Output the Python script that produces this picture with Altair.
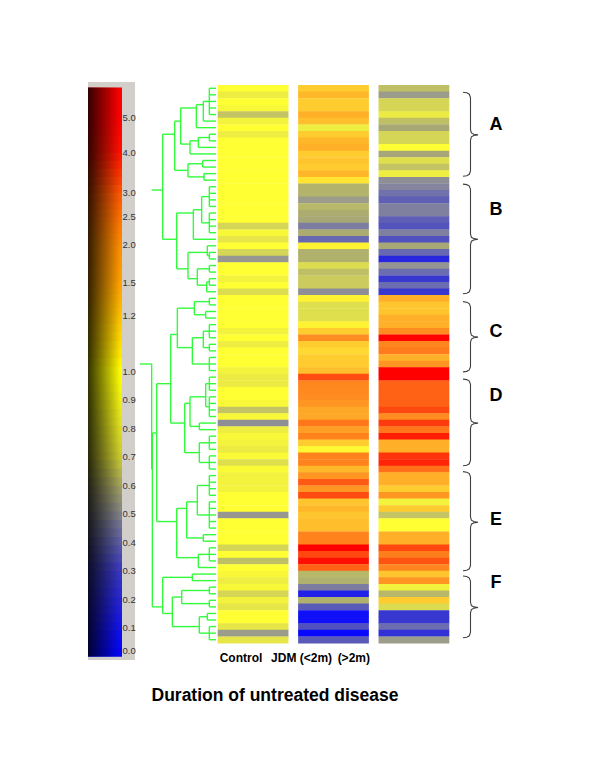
import altair as alt
import pandas as pd

control = [1,.93,1,.97,.8,.95,1,.93,1,1,1,1,1,1,1,1,1,1,1,1,1,.85,.97,.9,1,.85,.6,1,
           1,.95,1,.87,1,1,1,1,1,.95,1,.93,1,1,1,.95,.92,.92,1,1,.97,.8,.97,.55,.93,.97,.95,.92,
           .98,.88,.98,.95,.95,.95,1,1,1,.6,1,1,1,1,.85,1,.78,1,.97,.93,.97,.85,.95,.9,1,1,.9,.62,.9]
early = [1.2,1.35,1.2,1.2,1.4,1.3,.93,1.2,1.35,1.4,1.2,1.25,1.2,1.35,1.1,.73,.73,.62,.75,.7,.68,.47,.7,.38,1.05,.72,.72,.87,
         .78,.82,.82,.55,1.05,.88,.88,.88,1.05,1.2,1.6,1.2,1.15,1.2,1.2,1.3,2.5,1.7,1.65,1.6,1.55,1.45,1.45,1.9,1.5,1.75,1.2,1.03,
         1.75,1.75,1.35,1.55,2.3,1.55,2.5,1.25,1.35,1.25,1.3,1.3,1.75,1.75,5,2.6,4.5,2.2,.75,.72,.47,.1,.72,.3,.03,.03,.27,0,.3]
late = [.78,.62,.85,.85,.92,.78,.68,.85,.85,1,.67,.88,.8,.93,.55,.5,.42,.33,.48,.48,.33,.28,.48,.27,.68,.38,.13,.58,
        .4,.2,.4,.2,1.4,1.25,1.25,1.4,1.4,1.6,5,1.7,1.85,1.4,1.55,5,5,2.2,2.2,2.2,2.2,2.6,1.6,3,1.9,4,1.4,1.4,
        3.2,3.8,2,1.4,1.4,1.2,1.55,.95,1.2,.8,1,1,1.4,1.4,2.6,1.8,2.4,1.7,1.25,1.55,.95,.75,1.2,.87,.2,.2,.4,.17,.62]
groups = ["Control", "JDM (<2m)", "(>2m)"]

heat_stops = [0,.2,.3,.4,.5,.6,.7,.8,.9,1,1.2,1.4,1.6,2,2.5,3,5]
heat_colors = ["#0808ff","#3838d0","#5a5ab8","#6c6cb0","#84849c","#989890","#acac70","#c4c464","#e6e648",
               "#ffff33","#ffcc30","#ffb028","#ff8c20","#ff7018","#ff4c10","#ff3a0c","#ff0000"]

bar_levels = [0,.03,.06,.09,.12,.15,.18,.21,.24,.27,.3,.33,.36,.39,.42,.45,.48,.51,.54,.57,.6,.63,.66,.69,.72,.75,
              .78,.81,.84,.87,.9,.93,.96,.99,1.02,1.05,1.08,1.11,1.14,1.17,1.2,1.23,1.27,1.31,1.35,1.4,1.45,1.5,1.56,
              1.62,1.7,1.78,1.86,1.94,2,2.1,2.2,2.3,2.4,2.5,2.65,2.8,3,3.2,3.4,3.6,3.8,4,4.25,4.5,4.75,5,5.25,5.5,5.75,6]
bar_stops = [0,.3,.5,.6,.7,.9,1,1.1,1.2,1.5,2,3,4,5,6]
bar_colors = ["#0000ff","#3838c0","#808088","#a0a060","#c8c830","#eeee10","#ffff00","#ffdc00","#ffc000","#ffa000",
              "#ff8c00","#ff5500","#ff1000","#ff0000","#ff0000"]
bar_ticks = [5,4,3,2.5,2,1.5,1.2,1,.9,.8,.7,.6,.5,.4,.3,.2,.1,.018]
bar_labels = ["5.0","4.0","3.0","2.5","2.0","1.5","1.2","1.0","0.9","0.8","0.7","0.6","0.5","0.4","0.3","0.2","0.1","0.0"]
bar_scale_values = [0,.1,1,1.2,1.5,2,2.5,3,4,5,6]

tree = (193,
  (160,
    (124,
      (106, (59,(38,(20,0,1,2,3,4),5),6), (78,(53,(20,7,8),9),10)),
      (84,(40,11,12),(36,13,14))),
    (118,
      (68,(43,(20,15,16,17,18),(20,19,20,21,22)),23),
      (84,(26,24,(20,25,26)),(56,(20,27,28),(28,(20,29,30),31))))),
  (191,
    (178,
      (136,
        (116,(65,(20,32,33),(31,34,35)),(71,(38,(20,36,37,38),(20,39,40)),(20,41,42,43))),
        (94,(78,(31,(20,44,45,46),(20,47,48,49,50)),(50,51,52)),(50,(20,53,54,55),(20,56,57,58)))),
      (118,
        (88,(56,(20,59,60,61,62),(20,63,64,65,66,67)),(38,68,69)),
        (53,(20,70,71,72),73))),
    (160,
      (71,74,75),
      (131,(103,(20,76,77),(20,78,79)),(50,(26,80,81),(20,82,83,84))))))
root_stem = 228

cluster_names = ["A","B","C","D","E","F"]
cluster_label_rows = [6.1,19,37.6,47.4,66.2,75.8]
brace_start = [1.1,15.1,33,44.8,58.9,74.8]
brace_tip = [7.6,23.5,38.4,51.5,66.6,79.6]
brace_end = [13.9,31.8,43.7,58,74,84.2]

FONT = "Liberation Sans"

# ---------- scales ----------
def row_scale():
    return alt.Scale(domain=[0,85], range=[77,635], zero=False, nice=False)
def dist_scale():
    return alt.Scale(domain=[0,228], range=[208,132], zero=False, nice=False)
def bar_y_scale():
    return alt.Scale(domain=bar_scale_values,
                     range=[648.5,620,364,307.7,275,237,209,185,144.7,110,79.5], nice=False, zero=False)

# ---------- heatmap ----------
rows = []
for name, col in zip(groups, [control, early, late]):
    for i, v in enumerate(col):
        rows.append({"group": name, "row": i, "row2": i + 1.06, "value": v})
heat = alt.Chart(pd.DataFrame(rows)).mark_rect().encode(
    x=alt.X("group:N", axis=None, sort=groups,
            scale=alt.Scale(domain=groups, range=[209.7,441.3], paddingInner=.12, paddingOuter=0)),
    y=alt.Y("row:Q", axis=None, scale=row_scale()),
    y2="row2:Q",
    color=alt.Color("value:Q", legend=None,
                    scale=alt.Scale(domain=heat_stops, range=heat_colors, interpolate="rgb")),
)

# ---------- dendrogram ----------
h_segs, v_segs = [], []
def walk(node, is_root=False):
    if isinstance(node, int):
        return node + .5, 0, [node + .5]
    d = node[0]
    ys, leaves = [], []
    for child in node[1:]:
        cy, cd, cl = walk(child)
        h_segs.append({"a": cd, "b": d, "y": cy})
        ys.append(cy)
        leaves += cl
    y = sum(leaves) / len(leaves)
    v_segs.append({"x": d, "y": (y if is_root else min(ys)), "y2": max(ys)})
    return y, d, leaves
ry, rd, _ = walk(tree, True)
h_segs.append({"a": rd, "b": root_stem, "y": ry})

GREEN = "#33fb3c"
dend_h = alt.Chart(pd.DataFrame(h_segs)).mark_rule(color=GREEN, strokeWidth=1.4).encode(
    x=alt.X("a:Q", axis=None, scale=dist_scale()), x2="b:Q",
    y=alt.Y("y:Q", axis=None, scale=row_scale()))
dend_v = alt.Chart(pd.DataFrame(v_segs)).mark_rule(color=GREEN, strokeWidth=1.4).encode(
    x=alt.X("x:Q", axis=None, scale=dist_scale()),
    y=alt.Y("y:Q", axis=None, scale=row_scale()), y2="y2:Q")

# ---------- colour bar ----------
panel = alt.Chart(pd.DataFrame({"v": [0]})).mark_rect(color="#d2cfcb").encode(
    x=alt.value(80), x2=alt.value(127), y=alt.value(74), y2=alt.value(652))
bar_rows = []
for i in range(len(bar_levels) - 1):
    bar_rows.append({"lo": bar_levels[max(i - 1, 0)], "hi": bar_levels[i + 1],
                     "mid": (bar_levels[i] + bar_levels[i + 1]) / 2})
bar_df = pd.DataFrame(bar_rows).iloc[::-1]
bar = alt.Chart(bar_df).mark_rect().encode(
    x=alt.value(80), x2=alt.value(114),
    y=alt.Y("hi:Q", axis=None, scale=bar_y_scale()), y2="lo:Q",
    color=alt.Color("mid:Q", legend=None,
                    scale=alt.Scale(domain=bar_stops, range=bar_colors, interpolate="rgb")),
)
shade = alt.Chart(pd.DataFrame({"v": [0]})).mark_rect(
    color=alt.Gradient(gradient="linear", x1=0, x2=1, y1=0, y2=0, stops=[
        alt.GradientStop(color="rgba(0,0,0,0.8)", offset=0),
        alt.GradientStop(color="rgba(0,0,0,0)", offset=0.95),
        alt.GradientStop(color="rgba(0,0,0,0)", offset=1),
    ])).encode(x=alt.value(80), x2=alt.value(114), y=alt.value(79.5), y2=alt.value(648.5))
bar_text = alt.Chart(pd.DataFrame({"v": bar_ticks, "t": bar_labels})).mark_text(
    font=FONT, fontSize=9.5, align="left", baseline="middle", color="#333333").encode(
    x=alt.value(114.5), y=alt.Y("v:Q", axis=None, scale=bar_y_scale()), text="t:N")

# ---------- braces ----------
brace_rows = []
for k, (s, t, e) in enumerate(zip(brace_start, brace_tip, brace_end)):
    pts = [(0,s),(.25,s+.08),(.42,s+.3),(.5,s+.8),(.5,t-.8),(.56,t-.3),(.72,t-.1),(1,t),
           (.72,t+.1),(.56,t+.3),(.5,t+.8),(.5,e-.8),(.42,e-.3),(.25,e-.08),(0,e)]
    for j, (bx, by) in enumerate(pts):
        brace_rows.append({"k": k, "j": j, "bx": bx, "by": by})
braces = alt.Chart(pd.DataFrame(brace_rows)).mark_line(color="#404040", strokeWidth=1.1).encode(
    x=alt.X("bx:Q", axis=None, scale=alt.Scale(domain=[0,1], range=[455,470], zero=False, nice=False)),
    y=alt.Y("by:Q", axis=None, scale=row_scale()),
    detail="k:N", order="j:Q")
letters = alt.Chart(pd.DataFrame({"t": cluster_names, "r": cluster_label_rows})).mark_text(
    font=FONT, fontSize=18, fontWeight="bold", color="#000000", align="center", baseline="middle").encode(
    x=alt.value(488), y=alt.Y("r:Q", axis=None, scale=row_scale()), text="t:N")

# ---------- texts ----------
def label(text, x, y, size):
    return alt.Chart(pd.DataFrame({"t": [text]})).mark_text(
        font=FONT, fontSize=size, fontWeight="bold", color="#000000", align="center", baseline="middle").encode(
        x=alt.value(x), y=alt.value(y), text="t:N")

chart = alt.layer(
    panel, bar, shade, bar_text, dend_h, dend_v, heat, braces, letters,
    label(groups[0], 233, 650, 12), label(groups[1], 293.6, 650, 12), label(groups[2], 345.8, 650, 12),
    label("Duration of untreated disease", 267, 688, 17.5),
).resolve_scale(x="independent", y="independent", color="independent").properties(
    width=584, height=760, padding=0, background="#ffffff",
    autosize=alt.AutoSizeParams(type="none"),
).configure_view(stroke=None)

chart.save("out.html", embed_options={"renderer": "svg", "actions": False})
